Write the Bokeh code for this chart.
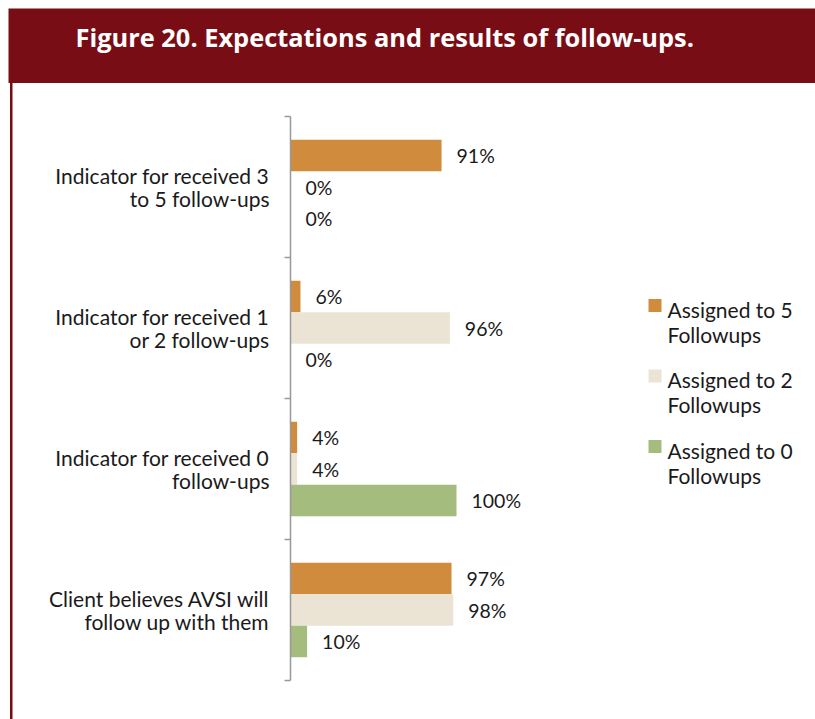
from bokeh.plotting import figure
from bokeh.models import (ColumnDataSource, Range1d, LinearAxis, FixedTicker,
                          BoxAnnotation, Label, CustomJSTickFormatter)
from bokeh.core.properties import value
from bokeh.embed import file_html
from bokeh.resources import INLINE

# ---------------- data ----------------
categories = [
    "Indicator for received 3\nto 5 follow-ups",
    "Indicator for received 1\nor 2 follow-ups",
    "Indicator for received 0\nfollow-ups",
    "Client believes AVSI will\nfollow up with them",
]
series_names = ["Assigned to 5\nFollowups", "Assigned to 2\nFollowups", "Assigned to 0\nFollowups"]
assigned_5 = [91, 6, 4, 97]
assigned_2 = [0, 96, 4, 98]
assigned_0 = [0, 0, 100, 10]
title_text = "Figure 20. Expectations and results of follow-ups."

# ---------------- styles / layout ----------------
colors = ["#D08C3C", "#EBE4D4", "#A4BC7E"]
HEADER = "#780D16"
W, H = 815, 719
PX = 1.66          # pixels per percent
AXIS_X = 290       # px of value 0
CAT_H = 141        # pixels per category
TOP_CENTER = 186.5 # px (from top) of first category centre
NCAT = len(categories)
FONT = "Lato"


def fx(px):
    return (px - AXIS_X) / PX


def fy(py):
    return (NCAT - 1) + (TOP_CENTER - py) / CAT_H


p = figure(width=W, height=H, output_backend="svg", toolbar_location=None,
           x_range=Range1d(fx(0), fx(W)), y_range=Range1d(fy(H), fy(0)),
           x_axis_location=None, y_axis_location=None,
           min_border=0, outline_line_color=None)
p.grid.grid_line_color = None
p.background_fill_color = "white"
p.border_fill_color = "white"

# header band and left border
p.add_layout(BoxAnnotation(left=fx(8), top=fy(8), bottom=fy(82.5),
                           fill_color=HEADER, fill_alpha=1,
                           line_color=None, level="underlay"))
p.add_layout(BoxAnnotation(left=fx(9.5), right=fx(12), top=fy(82.5),
                           fill_color=HEADER, fill_alpha=1,
                           line_color=None, level="underlay"))
p.add_layout(Label(x=fx(75), y=fy(36.5), text=title_text, text_color="white",
                   text_font="Open Sans", text_font_style="bold",
                   text_font_size="25.4px", text_baseline="middle",
                   text_align="left"))

# category positions (top to bottom)
ypos = [NCAT - 1 - i for i in range(NCAT)]
bar_h = 31.5 / CAT_H
offsets = [bar_h, 0, -bar_h]
series = [assigned_5, assigned_2, assigned_0]

lab_x, lab_y, lab_t = [], [], []
for vals, off, col in zip(series, offsets, colors):
    ys = [y + off for y in ypos]
    src = ColumnDataSource(dict(y=ys, right=vals))
    p.hbar(y="y", left=0, right="right", height=bar_h, source=src,
           fill_color=col, line_color=None)
    for v, yy in zip(vals, ys):
        lab_x.append(v + 15 / PX)
        lab_y.append(yy)
        lab_t.append(f"{v}%")

p.text(x=lab_x, y=lab_y, text=lab_t, text_font=value(FONT),
       text_font_size="19.5px", text_color="#1a1a1a", text_align="left",
       text_baseline="middle")

# category labels
p.text(x=[fx(269)] * NCAT, y=ypos, text=categories, text_font=value(FONT),
       text_font_size="21px", text_color="#1a1a1a", text_align="right",
       text_baseline="middle", text_line_height=0.92)

# axis with boundary ticks
ax = LinearAxis(fixed_location=0, bounds=(-0.5, NCAT - 0.5),
                ticker=FixedTicker(ticks=[i - 0.5 for i in range(NCAT + 1)]),
                formatter=CustomJSTickFormatter(code="return ''"),
                major_tick_in=0, major_tick_out=6,
                minor_tick_out=0, minor_tick_in=0,
                axis_line_color="#999999", axis_line_width=1.5,
                major_tick_line_color="#999999", major_tick_line_width=1.5)
p.add_layout(ax, "left")

# legend
leg_sq_x = fx(654.5)
leg_txt_x = fx(667)
leg_sq_y = [fy(305 + 70.5 * i) for i in range(3)]
leg_txt_y = [fy(321 + 70.5 * i) for i in range(3)]
p.scatter(x=[leg_sq_x] * 3, y=leg_sq_y, marker="square", size=13,
          fill_color=colors, line_color=None)
p.text(x=[leg_txt_x] * 3, y=leg_txt_y, text=series_names,
       text_font=value(FONT), text_font_size="21px", text_color="#1a1a1a",
       text_align="left", text_baseline="middle", text_line_height=1.0)

open("out.html", "w").write(file_html(p, INLINE))
